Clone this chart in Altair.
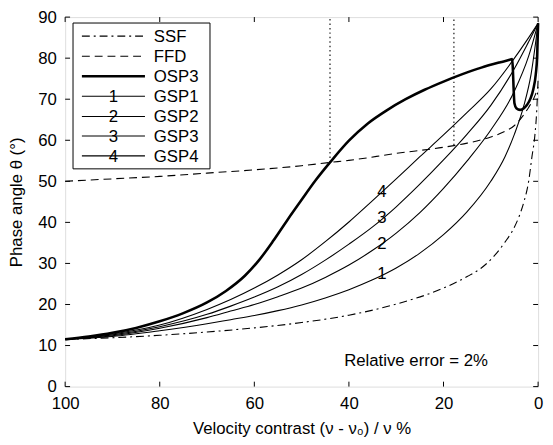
import altair as alt
import pandas as pd

# ---------------- data ----------------
ssf_x = [100, 90, 80, 70, 60, 50, 40, 30, 20, 15, 12, 9, 7, 5.5, 4, 3, 2, 1.3, 0.7, 0.3, 0]
ssf_y = [11.5, 11.9, 12.5, 13.3, 14.3, 15.6, 17.4, 20.1, 24.0, 26.8, 28.9, 32.2, 35.2, 37.8, 41.5, 45.0, 50.0, 56.0, 61.0, 67.0, 75.0]

ffd_x = [100, 90, 80, 70, 60, 50, 44, 40, 30, 20, 15, 10, 7, 5, 3.5, 2, 0.8, 0]
ffd_y = [50.0, 50.6, 51.2, 52.0, 52.8, 53.8, 54.6, 55.1, 56.8, 58.3, 59.3, 60.8, 62.2, 63.6, 65.5, 68.0, 70.5, 73.0]

osp3_x = [100, 95, 90, 85, 80, 75, 70, 66, 62, 59, 56, 53, 50, 47, 44, 40, 36, 32, 28, 24, 20, 16, 12, 8, 6, 5.5,
          5.0, 4.6, 3.8, 3.0, 2.3, 1.6, 1.0, 0.5, 0.2, 0]
osp3_y = [11.5, 12.2, 13.1, 14.3, 15.9, 17.9, 20.5, 23.3, 27.0, 30.8, 35.5, 40.6, 45.5, 50.3, 54.6, 59.9, 64.1, 67.3, 70.0, 72.3, 74.3, 76.1, 77.7, 79.0, 79.6, 79.8,
          69.0, 67.8, 67.4, 67.8, 68.7, 70.2, 72.5, 76.0, 80.5, 88.5]

gsp4_x = [100, 90, 80, 70, 65, 60, 55, 50, 45, 40, 35, 30, 25, 20, 15, 10, 5, 2, 0]
gsp4_y = [11.5, 12.8, 15.0, 18.8, 21.2, 24.0, 27.2, 30.9, 35.3, 40.1, 45.3, 50.6, 56.0, 61.3, 66.8, 72.5, 80.0, 85.0, 88.5]

gsp3_x = [100, 90, 80, 70, 65, 60, 55, 50, 45, 40, 35, 30, 25, 20, 15, 10, 5, 2, 0]
gsp3_y = [11.5, 12.6, 14.6, 17.6, 19.6, 21.8, 24.3, 27.3, 30.8, 34.7, 38.9, 43.8, 49.3, 55.2, 61.5, 68.5, 77.5, 84.0, 88.5]

gsp2_x = [100, 90, 80, 70, 65, 60, 55, 50, 45, 40, 35, 30, 25, 20, 15, 10, 5, 2, 0]
gsp2_y = [11.5, 12.4, 14.2, 16.8, 18.4, 20.0, 21.9, 24.0, 26.6, 29.6, 33.2, 37.4, 42.4, 48.3, 55.0, 62.5, 72.0, 80.5, 88.5]

gsp1_x = [100, 90, 80, 70, 65, 60, 55, 50, 45, 40, 35, 30, 25, 20, 15, 10, 7, 5, 3, 1.5, 0]
gsp1_y = [11.5, 12.2, 13.6, 15.3, 16.3, 17.3, 18.5, 19.9, 21.6, 23.6, 26.0, 28.9, 32.5, 37.0, 42.6, 50.0, 56.0, 61.5, 68.5, 76.0, 88.5]

series_names = ["SSF", "FFD", "OSP3", "GSP1", "GSP2", "GSP3", "GSP4"]
series_xy = [(ssf_x, ssf_y), (ffd_x, ffd_y), (osp3_x, osp3_y),
             (gsp1_x, gsp1_y), (gsp2_x, gsp2_y), (gsp3_x, gsp3_y), (gsp4_x, gsp4_y)]

# numbers written on the GSP curves
lab_text = ["1", "2", "3", "4"]
lab_x = [33, 33, 33, 33]
lab_y = [27.4, 34.8, 41.0, 47.5]

# vertical dotted markers
vline_x = [44, 17.8]
vline_lo = [54.6, 58.8]
vline_hi = [90, 90]

note_text = "Relative error = 2%"
note_x = [25.8]
note_y = [6.2]

x_ticks = [0, 20, 40, 60, 80, 100]
y_ticks = [0, 10, 20, 30, 40, 50, 60, 70, 80, 90]

# ---------------- build ----------------
rows = []
for name, (xs_, ys_) in zip(series_names, series_xy):
    for i, (a, b) in enumerate(zip(xs_, ys_)):
        rows.append({"series": name, "x": a, "y": b, "i": i})
df = pd.DataFrame(rows)

W, H = 480, 375
FONT = "Liberation Sans"
FS = 17

xsc = alt.Scale(domain=[0, 100], reverse=True, nice=False, zero=False)
ysc = alt.Scale(domain=[0, 90], nice=False, zero=False)

xaxis = alt.Axis(values=x_ticks, ticks=False, domain=False, grid=False, labelPadding=9,
                 labelFlush=False, labelOverlap=False,
                 title="Velocity contrast (ν - ν₀) / ν %", titlePadding=10,
                 labelFontSize=FS, titleFontSize=FS, labelFont=FONT, titleFont=FONT,
                 titleFontWeight="normal", labelColor="black", titleColor="black")
yaxis = alt.Axis(values=y_ticks, ticks=False, domain=False, grid=False, labelPadding=9,
                 labelFlush=False, labelOverlap=False,
                 title="Phase angle θ (°)", titlePadding=12,
                 labelFontSize=FS, titleFontSize=FS, labelFont=FONT, titleFont=FONT,
                 titleFontWeight="normal", labelColor="black", titleColor="black")

X = alt.X("x:Q", scale=xsc, axis=xaxis)
Y = alt.Y("y:Q", scale=ysc, axis=yaxis)

styles = {
    "SSF": dict(strokeWidth=1.1, strokeDash=[8, 4, 2, 4]),
    "FFD": dict(strokeWidth=1.1, strokeDash=[8, 5]),
    "OSP3": dict(strokeWidth=2.6),
    "GSP1": dict(strokeWidth=1.1),
    "GSP2": dict(strokeWidth=1.1),
    "GSP3": dict(strokeWidth=1.1),
    "GSP4": dict(strokeWidth=1.1),
}

layers = []
for name in series_names:
    sub = df[df.series == name]
    layers.append(
        alt.Chart(sub).mark_line(color="black", interpolate="monotone", **styles[name]).encode(
            x=X, y=Y, order="i:Q")
    )

vdf = pd.DataFrame({"x": vline_x, "y": vline_lo, "y2": vline_hi})
layers.append(alt.Chart(vdf).mark_rule(color="black", strokeWidth=1.1, strokeDash=[1.5, 3]).encode(
    x=X, y=Y, y2="y2:Q"))

ldf = pd.DataFrame({"x": lab_x, "y": lab_y, "t": lab_text})
layers.append(alt.Chart(ldf).mark_text(font=FONT, fontSize=FS, color="black").encode(
    x=X, y=Y, text="t:N"))

ndf = pd.DataFrame({"x": note_x, "y": note_y, "t": [note_text]})
layers.append(alt.Chart(ndf).mark_text(font=FONT, fontSize=FS, color="black").encode(
    x=X, y=Y, text="t:N"))

# inward ticks on all four sides
xt = pd.DataFrame({"x": x_ticks})
yt = pd.DataFrame({"y": y_ticks})
layers.append(alt.Chart(xt).mark_rule(color="black").encode(x=X, y=alt.value(H), y2=alt.value(H - 5)))
layers.append(alt.Chart(xt).mark_rule(color="black").encode(x=X, y=alt.value(0), y2=alt.value(5)))
layers.append(alt.Chart(yt).mark_rule(color="black").encode(y=Y, x=alt.value(0), x2=alt.value(5)))
layers.append(alt.Chart(yt).mark_rule(color="black").encode(y=Y, x=alt.value(W), x2=alt.value(W - 5)))

# legend box drawn inside the plot
one = pd.DataFrame({"k": [0]})
layers.append(alt.Chart(one).mark_rect(fill="white", stroke="black", strokeWidth=1).encode(
    x=alt.value(8), x2=alt.value(147), y=alt.value(6), y2=alt.value(154)))
row_y = [19.3, 39.8, 60.0, 80.3, 100.8, 120.6, 140.8]
leg_digits = {"GSP1": "1", "GSP2": "2", "GSP3": "3", "GSP4": "4"}
for name, ry in zip(series_names, row_y):
    layers.append(alt.Chart(one).mark_rule(color="black", **styles[name]).encode(
        x=alt.value(17), x2=alt.value(81), y=alt.value(ry)))
    layers.append(alt.Chart(one).mark_text(font=FONT, fontSize=FS, color="black", align="left",
                                           baseline="middle").encode(
        x=alt.value(90), y=alt.value(ry + 1), text=alt.value(name)))
    if name in leg_digits:
        layers.append(alt.Chart(one).mark_text(font=FONT, fontSize=FS, color="black",
                                               baseline="middle").encode(
            x=alt.value(49), y=alt.value(ry + 1), text=alt.value(leg_digits[name])))

chart = alt.layer(*layers).properties(
    width=W, height=H,
    autosize=alt.AutoSizeParams(type="none"),
    padding={"left": 58, "top": 6, "right": 7, "bottom": 54},
).configure_view(stroke="black", strokeWidth=1).configure(background="white")

chart.save("out.html", embed_options={"renderer": "svg", "actions": False})
